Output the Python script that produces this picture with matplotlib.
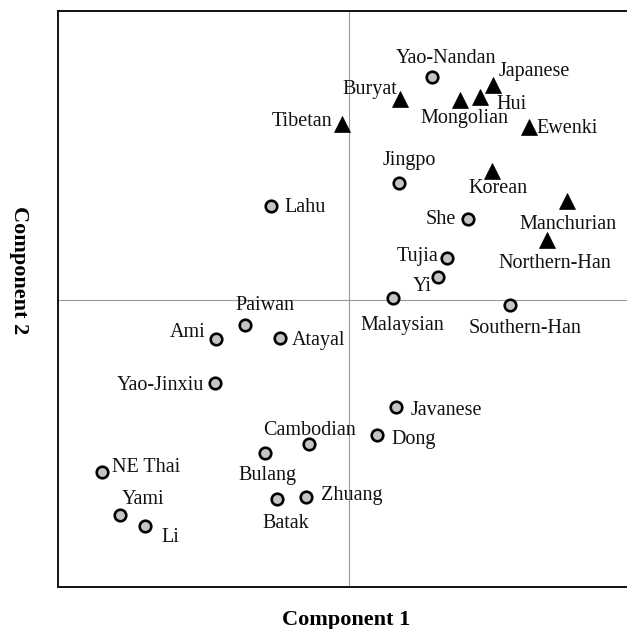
import matplotlib
matplotlib.use("Agg")
import matplotlib.pyplot as plt

plt.rcParams['font.family'] = ['Liberation Serif', 'DejaVu Serif']

# Northern populations (triangles)
north_names = ["Tibetan", "Buryat", "Mongolian", "Hui", "Japanese", "Ewenki",
               "Korean", "Manchurian", "Northern-Han"]
north_c1 = [-0.07, 0.51, 1.11, 1.31, 1.44, 1.80, 1.43, 2.18, 1.98]
north_c2 = [1.76, 2.01, 2.00, 2.03, 2.15, 1.73, 1.29, 0.99, 0.60]

# Southern populations (circles)
south_names = ["Yao-Nandan", "Jingpo", "Lahu", "She", "Tujia", "Yi", "Malaysian",
               "Southern-Han", "Paiwan", "Ami", "Atayal", "Yao-Jinxiu", "Cambodian",
               "Bulang", "NE Thai", "Yami", "Li", "Batak", "Zhuang", "Javanese", "Dong"]
south_c1 = [0.83, 0.50, -0.78, 1.19, 0.98, 0.89, 0.44, 1.61, -1.04, -1.33, -0.69,
            -1.34, -0.40, -0.84, -2.47, -2.29, -2.04, -0.72, -0.43, 0.47, 0.28]
south_c2 = [2.23, 1.17, 0.94, 0.81, 0.42, 0.23, 0.02, -0.05, -0.25, -0.39, -0.38,
            -0.83, -1.44, -1.53, -1.72, -2.15, -2.26, -1.99, -1.97, -1.07, -1.35]

x_label = "Component 1"
y_label = "Component 2"

# label placement: (dx px, dy px downward, horizontal alignment), baseline anchored
label_pos = {
    "Tibetan": (-9.4, 2, 'right'),
    "Buryat": (-3.3, -4.7, 'right'),
    "Mongolian": (4.5, 23.5, 'center'),
    "Hui": (16.4, 11.8, 'left'),
    "Japanese": (6, -9.3, 'left'),
    "Ewenki": (7, 5.7, 'left'),
    "Korean": (6.2, 21.6, 'center'),
    "Manchurian": (1.3, 28.3, 'center'),
    "Northern-Han": (8.2, 28.3, 'center'),
    "Yao-Nandan": (14.4, -14, 'center'),
    "Jingpo": (10.2, -17.6, 'center'),
    "Lahu": (13.3, 6, 'left'),
    "She": (-12, 4.7, 'right'),
    "Tujia": (-9, 3.4, 'right'),
    "Yi": (-6, 14.4, 'right'),
    "Malaysian": (9.4, 31.7, 'center'),
    "Southern-Han": (15.2, 28.3, 'center'),
    "Paiwan": (19.5, -15, 'center'),
    "Ami": (-10.3, -1.7, 'right'),
    "Atayal": (11.7, 6.7, 'left'),
    "Yao-Jinxiu": (-10.7, 7.3, 'right'),
    "Cambodian": (0.2, -9, 'center'),
    "Bulang": (2.5, 27.3, 'center'),
    "NE Thai": (10, 0.3, 'left'),
    "Yami": (22.9, -11, 'center'),
    "Li": (16, 15.7, 'left'),
    "Batak": (8.8, 29, 'center'),
    "Zhuang": (14.7, 2.6, 'left'),
    "Javanese": (14.7, 8.3, 'left'),
    "Dong": (14, 9.3, 'left'),
}

fig = plt.figure(figsize=(6.27, 6.29), dpi=100)
ax = fig.add_axes([58 / 627, 42 / 629, 1 - 58 / 627, 576 / 629])
ax.set_xlim(-2.91, 2.78)
ax.set_ylim(-2.87, 2.89)

ax.axvline(0, color='#9a9a9a', lw=0.8, zorder=1)
ax.axhline(0, color='#9a9a9a', lw=0.8, zorder=1)

ax.plot(south_c1, south_c2, linestyle='none', marker='o', ms=8.3,
        mfc='#c4c4c4', mec='black', mew=1.9, zorder=3)
ax.plot(north_c1, north_c2, linestyle='none', marker='^', ms=11,
        mfc='black', mec='black', mew=0.5, zorder=3)

pt = 0.72
for names, xs, ys in ((north_names, north_c1, north_c2), (south_names, south_c1, south_c2)):
    for n, x, y in zip(names, xs, ys):
        dx, dy, ha = label_pos[n]
        ax.annotate(n, (x, y), xytext=(dx * pt, -dy * pt), textcoords='offset points',
                    ha=ha, va='baseline', fontsize=14.5, color='#111111', zorder=4)

ax.set_xticks([])
ax.set_yticks([])
ax.spines['right'].set_visible(False)
for s in ('left', 'top', 'bottom'):
    ax.spines[s].set_linewidth(1.4)
    ax.spines[s].set_color('#111111')

fig.text(346.5 / 627, 1 - 625 / 629, x_label, ha='center', va='baseline',
         fontsize=16, fontweight='bold')
fig.text(19 / 627, 1 - 270 / 629, y_label, ha='center', va='center',
         rotation=270, fontsize=16, fontweight='bold')

fig.savefig("out.png", dpi=100)
